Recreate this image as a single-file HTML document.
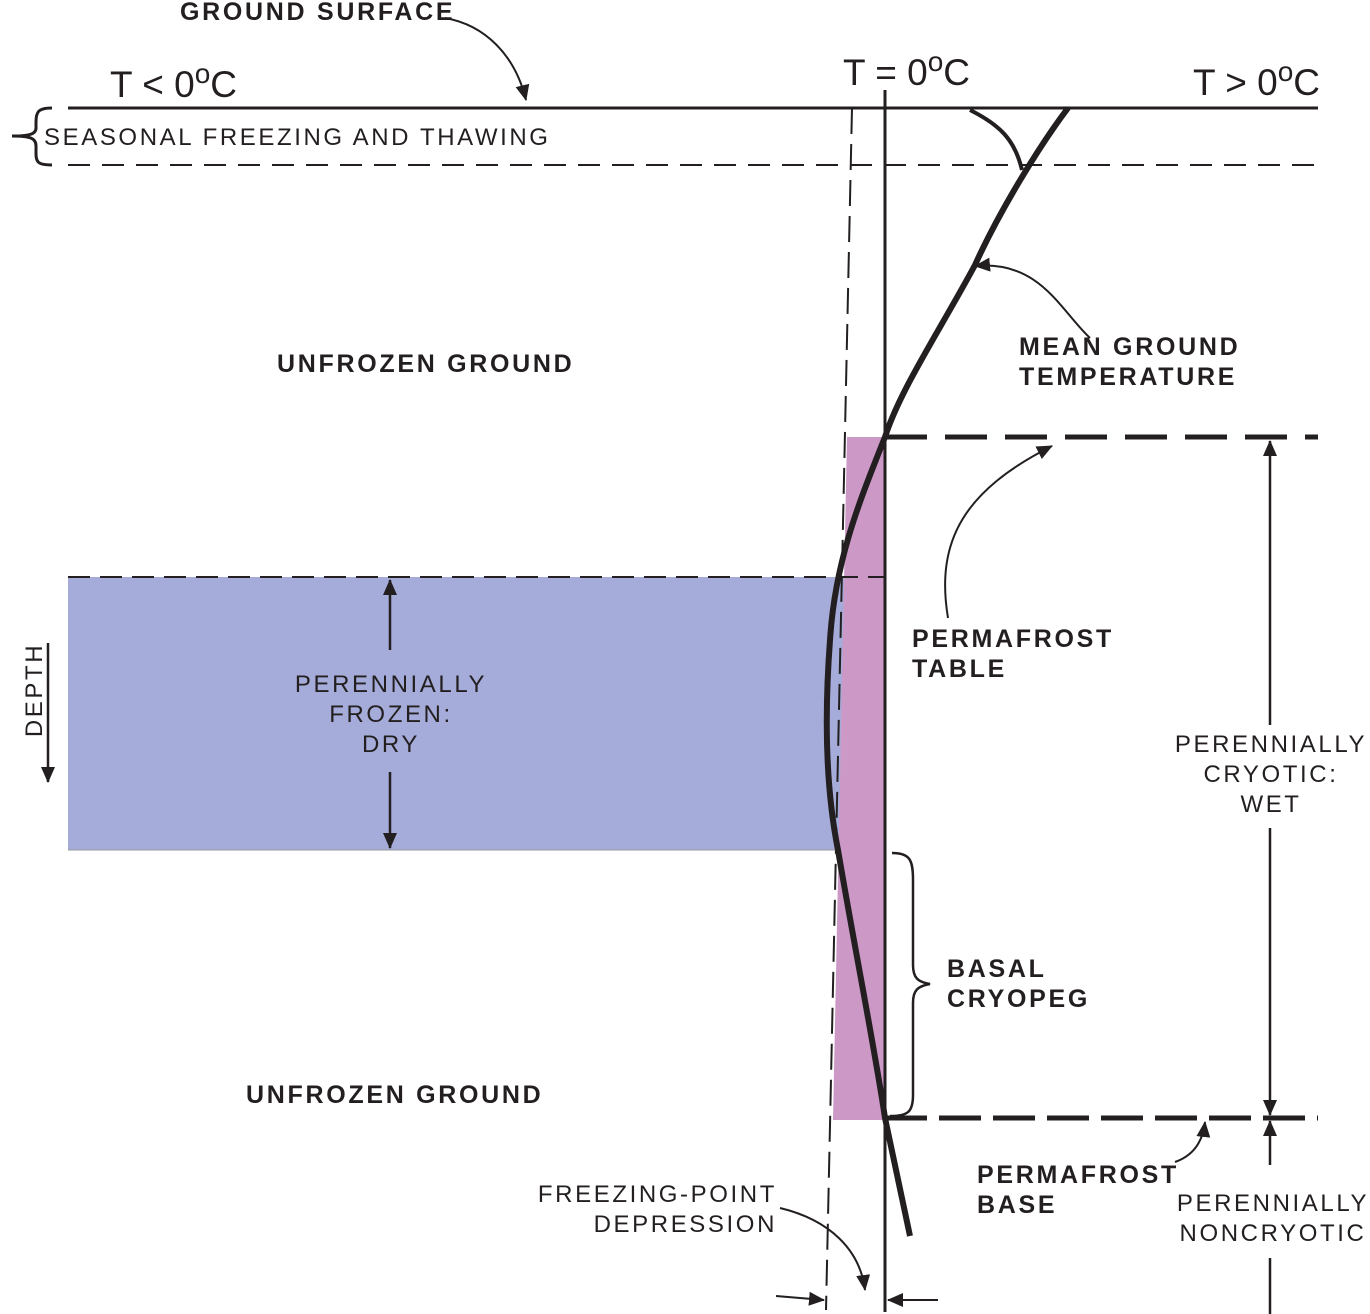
<!DOCTYPE html>
<html><head><meta charset="utf-8"><style>
html,body{margin:0;padding:0;background:#fff;}
svg{display:block;}
text{font-family:"Liberation Sans",Arial,sans-serif;fill:#231f20;}
.b{font-weight:bold;font-size:25px;letter-spacing:2.7px;}
.r{font-size:24px;letter-spacing:2.6px;}
.t{font-size:37px;}
.o{font-size:28px;}
</style></head><body>
<svg width="1370" height="1314" viewBox="0 0 1370 1314" xmlns="http://www.w3.org/2000/svg">
<defs>
<marker id="A" markerWidth="16" markerHeight="14" refX="15" refY="7" orient="auto" markerUnits="userSpaceOnUse"><path d="M0,0 L16,7 L0,14 Z" fill="#231f20"/></marker>
</defs>
<rect x="68" y="577" width="776" height="273" fill="#a5acd9"/>
<line x1="68" y1="850" x2="884" y2="850" stroke="#999" stroke-width="1"/>
<polygon points="847,437 885,437 885,1120 833,1120" fill="#cc99c6"/>
<line x1="68" y1="108" x2="1318" y2="108" stroke="#231f20" stroke-width="3"/>
<line x1="68" y1="165" x2="1318" y2="165" stroke="#231f20" stroke-width="2" stroke-dasharray="22,12"/>
<line x1="852" y1="108" x2="826" y2="1310" stroke="#231f20" stroke-width="2" stroke-dasharray="26,10"/>
<line x1="885" y1="90" x2="885" y2="1312" stroke="#231f20" stroke-width="3"/>
<line x1="68" y1="577" x2="884" y2="577" stroke="#231f20" stroke-width="2" stroke-dasharray="22,10"/>
<line x1="885" y1="437" x2="1318" y2="437" stroke="#231f20" stroke-width="5" stroke-dasharray="42,18"/>
<line x1="885" y1="1118" x2="1318" y2="1118" stroke="#231f20" stroke-width="5" stroke-dasharray="42,12"/>
<path d="M1068,108 C1040,145 1000,210 975,265 C940,330 900,390 885,437 C860,500 835,560 830,640 C824,720 826,790 838,850 C855,950 875,1050 885,1118 L910,1236" fill="none" stroke="#231f20" stroke-width="6"/>
<path d="M970,110 C1000,125 1015,140 1022,170" fill="none" stroke="#231f20" stroke-width="4"/>
<path d="M52,108 C38,108 36,112 36,122 L36,128 C36,134 30,136 12,136 C30,136 36,138 36,146 L36,154 C36,162 38,165 52,165" fill="none" stroke="#231f20" stroke-width="3"/>
<path d="M892,853 C910,853 913,860 913,880 L913,965 C913,978 918,982 930,984 C918,986 913,990 913,1003 L913,1095 C913,1112 908,1116 890,1116" fill="none" stroke="#231f20" stroke-width="2.5"/>
<path d="M445,18 C485,25 515,55 526,100" fill="none" stroke="#231f20" stroke-width="2" marker-end="url(#A)"/>
<path d="M1090,338 C1060,310 1040,260 975,266" fill="none" stroke="#231f20" stroke-width="2" marker-end="url(#A)"/>
<path d="M948,618 C935,540 965,490 1052,446" fill="none" stroke="#231f20" stroke-width="2" marker-end="url(#A)"/>
<path d="M1175,1162 C1195,1155 1203,1140 1205,1122" fill="none" stroke="#231f20" stroke-width="2" marker-end="url(#A)"/>
<path d="M780,1208 C830,1220 860,1250 865,1290" fill="none" stroke="#231f20" stroke-width="2" marker-end="url(#A)"/>
<line x1="776" y1="1296" x2="824" y2="1300" stroke="#231f20" stroke-width="2" marker-end="url(#A)"/>
<line x1="938" y1="1300" x2="888" y2="1300" stroke="#231f20" stroke-width="2" marker-end="url(#A)"/>
<line x1="390" y1="650" x2="390" y2="580" stroke="#231f20" stroke-width="2.5" marker-end="url(#A)"/>
<line x1="390" y1="772" x2="390" y2="848" stroke="#231f20" stroke-width="2.5" marker-end="url(#A)"/>
<line x1="1270" y1="725" x2="1270" y2="441" stroke="#231f20" stroke-width="2.5" marker-end="url(#A)"/>
<line x1="1270" y1="828" x2="1270" y2="1115" stroke="#231f20" stroke-width="2.5" marker-end="url(#A)"/>
<line x1="1270" y1="1165" x2="1270" y2="1121" stroke="#231f20" stroke-width="2.5" marker-end="url(#A)"/>
<line x1="1270" y1="1258" x2="1270" y2="1314" stroke="#231f20" stroke-width="2.5"/>
<line x1="48" y1="643" x2="48" y2="782" stroke="#231f20" stroke-width="2.5" marker-end="url(#A)"/>
<text x="180" y="20" class="b">GROUND SURFACE</text>
<text x="110" y="97" class="t">T &lt; 0<tspan dy="-14" class="o">o</tspan><tspan dy="14">C</tspan></text>
<text x="843" y="85" class="t">T = 0<tspan dy="-14" class="o">o</tspan><tspan dy="14">C</tspan></text>
<text x="1193" y="95" class="t">T &gt; 0<tspan dy="-14" class="o">o</tspan><tspan dy="14">C</tspan></text>
<text x="44" y="145" class="r">SEASONAL FREEZING AND THAWING</text>
<text x="277" y="372" class="b">UNFROZEN GROUND</text>
<text x="1019" y="355" class="b">MEAN GROUND</text>
<text x="1019" y="385" class="b">TEMPERATURE</text>
<text x="912" y="647" class="b">PERMAFROST</text>
<text x="912" y="677" class="b">TABLE</text>
<text x="391" y="692" class="r" text-anchor="middle">PERENNIALLY</text>
<text x="391" y="722" class="r" text-anchor="middle">FROZEN:</text>
<text x="391" y="752" class="r" text-anchor="middle">DRY</text>
<text x="1271" y="752" class="r" text-anchor="middle">PERENNIALLY</text>
<text x="1271" y="782" class="r" text-anchor="middle">CRYOTIC:</text>
<text x="1271" y="812" class="r" text-anchor="middle">WET</text>
<text x="947" y="977" class="b">BASAL</text>
<text x="947" y="1007" class="b">CRYOPEG</text>
<text x="246" y="1103" class="b">UNFROZEN GROUND</text>
<text x="977" y="1183" class="b">PERMAFROST</text>
<text x="977" y="1213" class="b">BASE</text>
<text x="1273" y="1211" class="r" text-anchor="middle">PERENNIALLY</text>
<text x="1273" y="1241" class="r" text-anchor="middle">NONCRYOTIC</text>
<text x="777" y="1202" class="r" text-anchor="end">FREEZING-POINT</text>
<text x="777" y="1232" class="r" text-anchor="end">DEPRESSION</text>
<text transform="translate(42,690) rotate(-90)" class="r" text-anchor="middle">DEPTH</text>
</svg>
</body></html>
